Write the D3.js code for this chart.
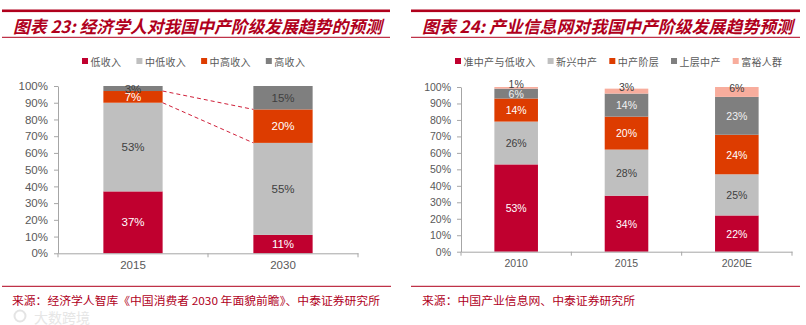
<!DOCTYPE html>
<html><head><meta charset="utf-8">
<script src="https://cdn.jsdelivr.net/npm/d3@7"></script>
<style>
body{margin:0;background:#fff;}
svg{display:block;}
</style></head>
<body>
<svg id="c" width="806" height="325"></svg>
<script>
// ---------- data ----------
const leftTitle = "图表 23: 经济学人对我国中产阶级发展趋势的预测";
const leftSource = "来源：经济学人智库《中国消费者 2030 年面貌前瞻》、中泰证券研究所";
const leftCategories = ["2015", "2030"];
const leftSeriesNames = ["低收入", "中低收入", "中高收入", "高收入"];
const leftLow = [37, 11];
const leftLowMid = [53, 55];
const leftHighMid = [7, 20];
const leftHigh = [3, 15];

const rightTitle = "图表 24: 产业信息网对我国中产阶级发展趋势预测";
const rightSource = "来源：中国产业信息网、中泰证券研究所";
const rightCategories = ["2010", "2015", "2020E"];
const rightSeriesNames = ["准中产与低收入", "新兴中产", "中产阶层", "上层中产", "富裕人群"];
const rightLowQuasi = [53, 34, 22];
const rightEmerging = [26, 28, 25];
const rightMiddle = [14, 20, 24];
const rightUpper = [6, 14, 23];
const rightAffluent = [1, 3, 6];

const yTicks = [0, 10, 20, 30, 40, 50, 60, 70, 80, 90, 100];

// ---------- styles ----------
const RED = "#c0002f", LGREY = "#bfbfbf", ORANGE = "#dd3c00", DGREY = "#7f7f7f", PINK = "#f8ad9d";
const DARKRED = "#b0001c";
const leftColors = [RED, LGREY, ORANGE, DGREY];
const leftLabelColors = ["#fff", "#404040", "#fff", "#404040"];
const rightColors = [RED, LGREY, ORANGE, DGREY, PINK];
const rightLabelColors = ["#fff", "#404040", "#fff", "#f2f2f2", "#404040"];
const CJK = "'Noto Sans CJK SC','Noto Sans',sans-serif";
const LAT = "'Liberation Sans',Arial,sans-serif";

const svg = d3.select("#c");

function header(x0, x1, title, tx, tlen, legendNames, colors, lx, gap) {
  svg.append("rect").attr("x", x0).attr("y", 9.5).attr("width", x1 - x0).attr("height", 2.6).attr("fill", DARKRED);
  svg.append("rect").attr("x", x0).attr("y", 36.8).attr("width", x1 - x0).attr("height", 1).attr("fill", DARKRED);
  svg.append("text").attr("x", tx).attr("y", 25.5).attr("dominant-baseline", "central")
    .attr("font-family", CJK).attr("font-weight", "bold").attr("font-style", "italic")
    .attr("font-size", 17).attr("fill", DARKRED)
    .attr("textLength", tlen).attr("lengthAdjust", "spacingAndGlyphs").text(title);
  // legend
  let x = lx;
  legendNames.forEach((n, i) => {
    svg.append("rect").attr("x", x).attr("y", 58).attr("width", 6).attr("height", 6).attr("fill", colors[i]);
    const t = svg.append("text").attr("x", x + 8.5).attr("y", 61).attr("dominant-baseline", "central")
      .attr("font-family", CJK).attr("font-size", 10).attr("letter-spacing", 0.3).attr("fill", "#595959").text(n);
    x += 8.5 + t.node().getComputedTextLength() + gap;
  });
}

function footer(x0, x1, text, tx, tlen) {
  svg.append("rect").attr("x", x0).attr("y", 285.8).attr("width", x1 - x0).attr("height", 1).attr("fill", DARKRED);
  svg.append("text").attr("x", tx).attr("y", 300).attr("dominant-baseline", "central")
    .attr("font-family", CJK).attr("font-size", 11).attr("fill", DARKRED)
    .attr("textLength", tlen).attr("lengthAdjust", "spacingAndGlyphs").text(text);
}

function chart(cfg) {
  const g = svg.append("g");
  const y = d3.scaleLinear().domain([0, 100]).range([cfg.y0, cfg.y1]).clamp(true);
  const x = d3.scaleBand().domain(cfg.categories).range([cfg.x0, cfg.x1]).padding(0);
  const bw = x.bandwidth() * cfg.barFrac;
  const rows = cfg.categories.map((c, i) => {
    const r = { cat: c };
    cfg.series.forEach((s, k) => r["s" + k] = s[i]);
    return r;
  });
  const keys = cfg.series.map((s, k) => "s" + k);
  const stacked = d3.stack().keys(keys)(rows);

  // y axis
  const ya = g.append("g").attr("transform", `translate(${cfg.x0},0)`)
    .call(d3.axisLeft(y).tickValues(yTicks).tickFormat(d => d + "%").tickSize(4).tickSizeOuter(0).tickPadding(6));
  ya.select(".domain").attr("stroke", "#a6a6a6");
  ya.selectAll(".tick line").attr("stroke", "#a6a6a6");
  ya.selectAll(".tick text").attr("font-family", LAT).attr("font-size", cfg.fs).attr("fill", "#595959");

  // bars
  stacked.forEach((layer, k) => {
    g.append("g").selectAll("rect").data(layer).join("rect")
      .attr("x", d => x(d.data.cat) + (x.bandwidth() - bw) / 2)
      .attr("width", bw)
      .attr("y", d => y(d[1]))
      .attr("height", d => y(d[0]) - y(d[1]))
      .attr("fill", cfg.colors[k]);
  });

  // x axis
  const xa = g.append("g").attr("transform", `translate(0,${cfg.y0})`)
    .call(d3.axisBottom(x).tickSize(0).tickPadding(cfg.xpad));
  xa.select(".domain").attr("stroke", "#a6a6a6");
  xa.selectAll(".tick text").attr("font-family", LAT).attr("font-size", cfg.fs).attr("fill", "#595959");
  const bounds = cfg.categories.map(c => x(c)).concat([x.range()[1]]);
  g.append("g").selectAll("line").data(bounds).join("line")
    .attr("x1", d => d).attr("x2", d => d).attr("y1", cfg.y0).attr("y2", cfg.y0 + 4).attr("stroke", "#a6a6a6");

  // labels
  stacked.forEach((layer, k) => {
    g.append("g").selectAll("text").data(layer).join("text")
      .attr("x", d => x(d.data.cat) + x.bandwidth() / 2)
      .attr("y", d => (y(d[0]) + y(d[1])) / 2 + (cfg.labelShift[k] || 0))
      .attr("text-anchor", "middle").attr("dominant-baseline", "central")
      .attr("font-family", LAT).attr("font-size", cfg.fs).attr("fill", cfg.labelColors[k])
      .text(d => cfg.series[k][cfg.categories.indexOf(d.data.cat)] + "%");
  });
  return { x, y, bw, stacked };
}

// ---------- left ----------
header(2, 390, leftTitle, 13, 369, leftSeriesNames, leftColors, 82, 15);
const L = chart({
  categories: leftCategories, series: [leftLow, leftLowMid, leftHighMid, leftHigh],
  colors: leftColors, labelColors: leftLabelColors,
  x0: 58, x1: 358, y0: 253.3, y1: 86, barFrac: 0.395, fs: 11.5, xpad: 8, labelShift: [0, 0, 0, 0]
});
// dashed connectors
{
  const cum = (arrs, i) => arrs.reduce((s, a) => s + a[i], 0);
  const xr = L.x("2015") + (L.x.bandwidth() + L.bw) / 2;
  const xl = L.x("2030") + (L.x.bandwidth() - L.bw) / 2;
  const pairs = [
    [cum([leftLow, leftLowMid, leftHighMid], 0), cum([leftLow, leftLowMid, leftHighMid], 1)],
    [cum([leftLow, leftLowMid], 0), cum([leftLow, leftLowMid], 1)]
  ];
  svg.append("g").selectAll("line").data(pairs).join("line")
    .attr("x1", xr).attr("x2", xl).attr("y1", d => L.y(d[0])).attr("y2", d => L.y(d[1]))
    .attr("stroke", "#d0203a").attr("stroke-width", 1).attr("stroke-dasharray", "4,3");
}
footer(2, 391, leftSource, 12, 368);

// ---------- right ----------
header(411, 800, rightTitle, 422, 371, rightSeriesNames, rightColors, 455, 12);
chart({
  categories: rightCategories, series: [rightLowQuasi, rightEmerging, rightMiddle, rightUpper, rightAffluent],
  colors: rightColors, labelColors: rightLabelColors,
  x0: 461, x1: 792, y0: 251.7, y1: 87, barFrac: 0.395, fs: 10.5, xpad: 8, labelShift: [0, 0, 0, 0, -4]
});
footer(411, 800, rightSource, 422, 213);

// watermark
svg.append("circle").attr("cx", 20).attr("cy", 316).attr("r", 5.5).attr("fill", "none").attr("stroke", "#e4e4e4").attr("stroke-width", 2);
svg.append("text").attr("x", 34).attr("y", 316.5).attr("dominant-baseline", "central")
  .attr("font-family", CJK).attr("font-size", 14).attr("fill", "#e6e6e6").text("大数跨境");
</script>
</body></html>
